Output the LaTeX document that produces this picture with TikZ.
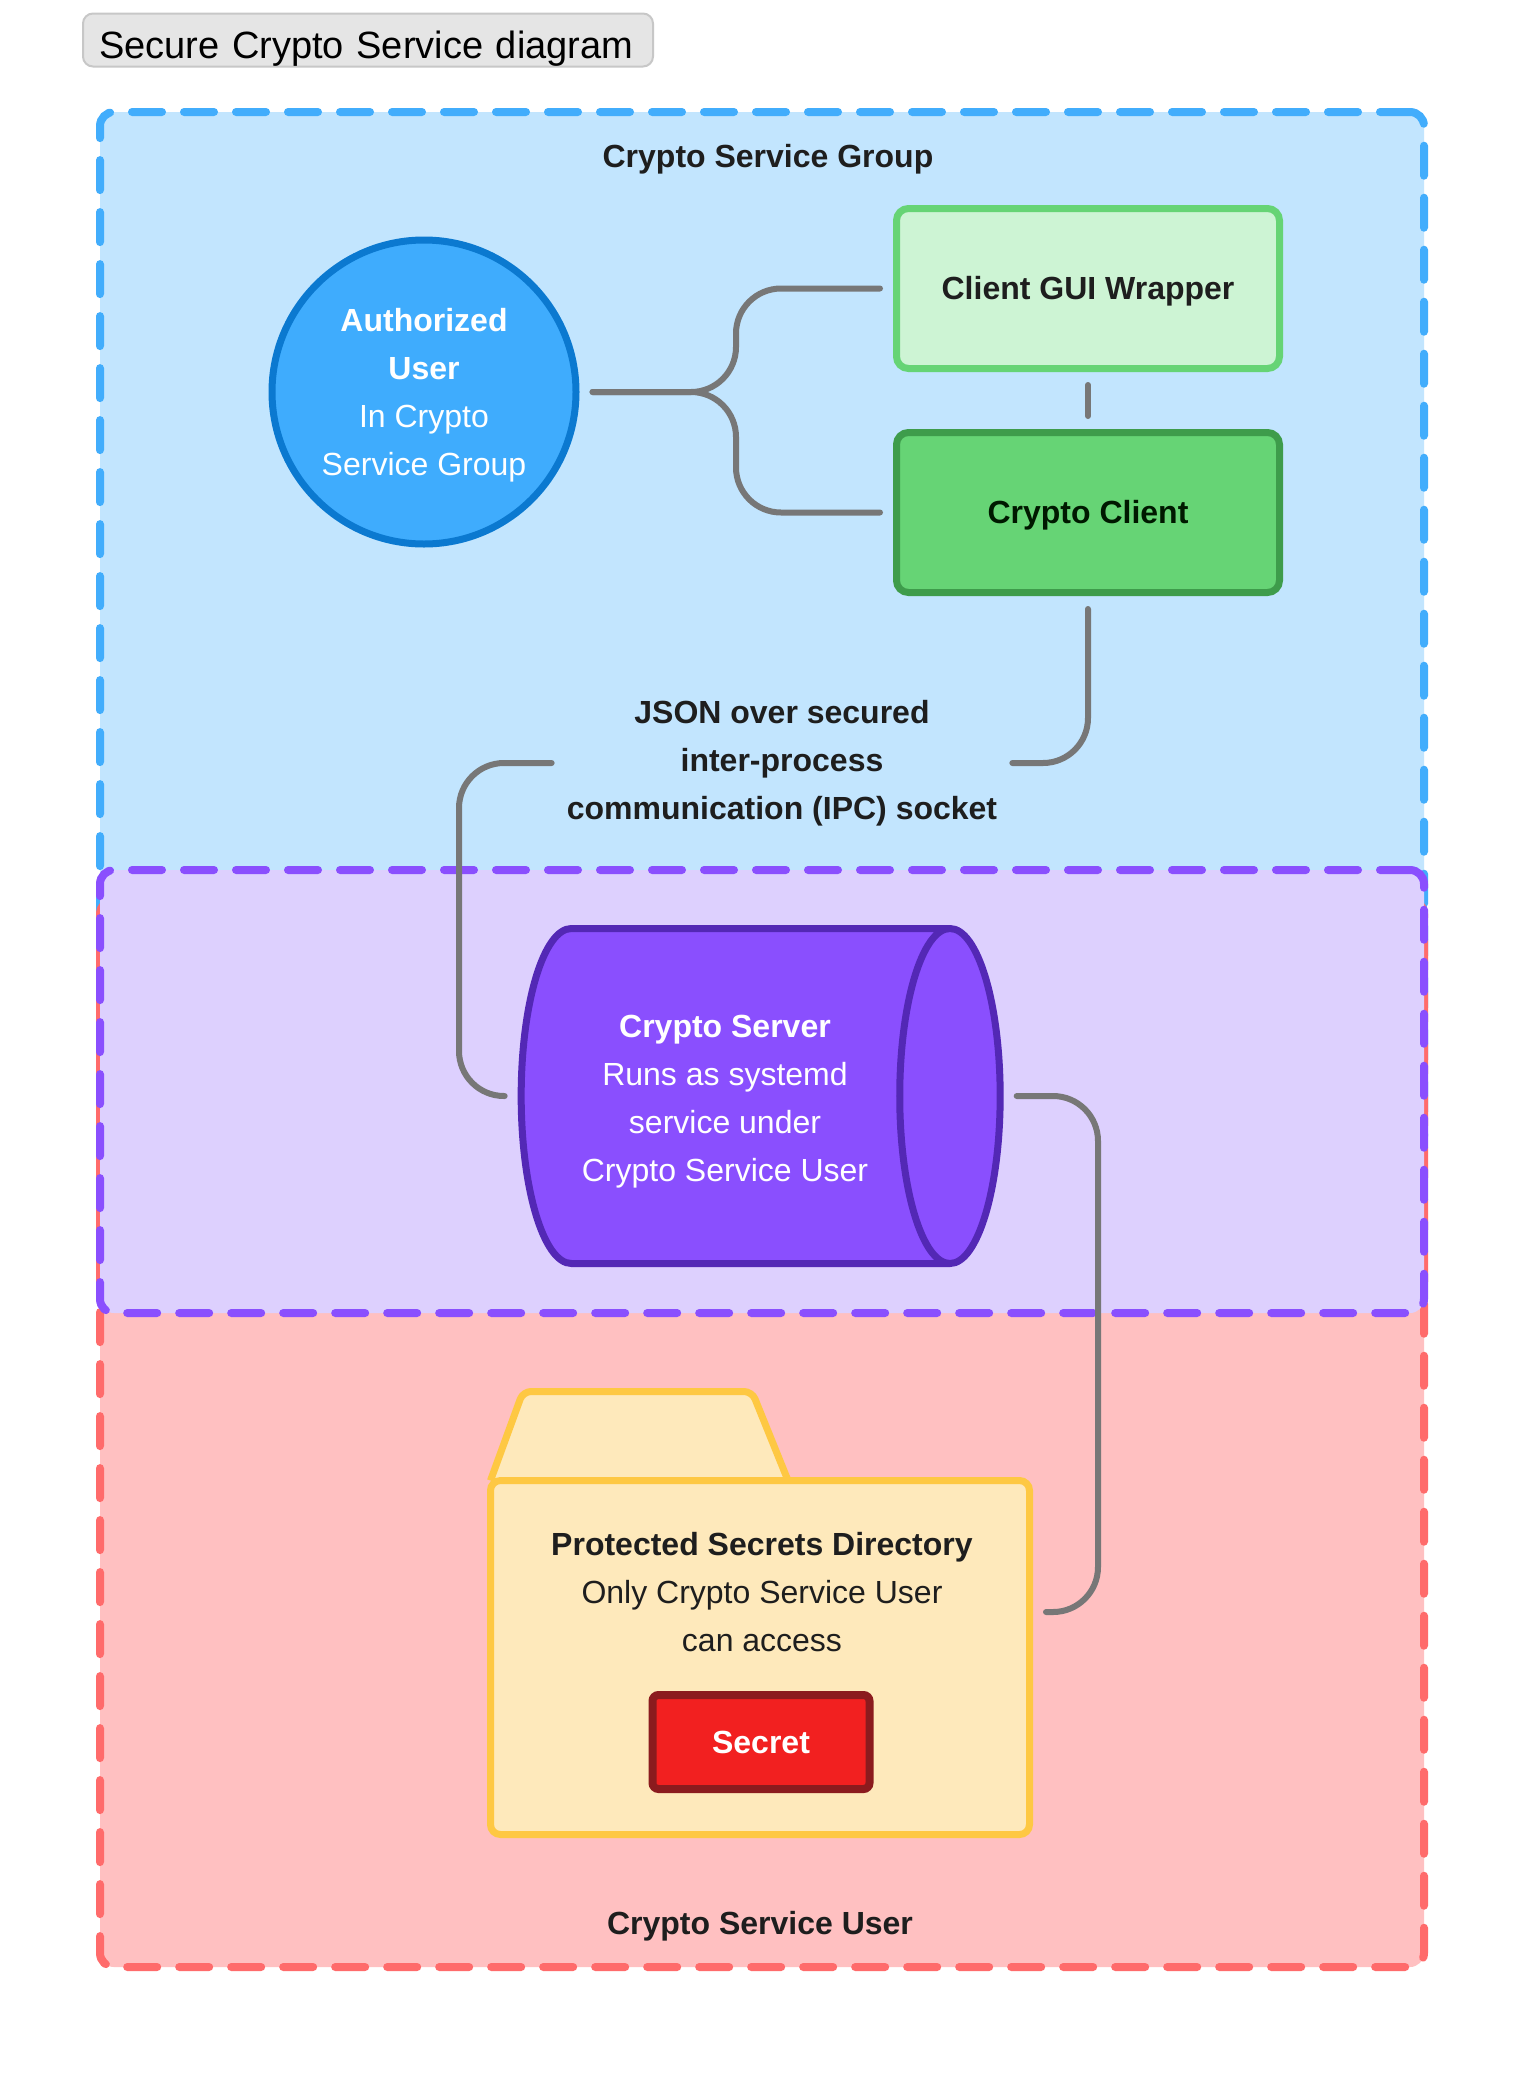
\documentclass[tikz,border=0pt]{standalone}
\usepackage{fontspec}
\setmainfont{Liberation Sans}
\usepackage{tikz}
\usetikzlibrary{shapes,arrows,positioning}
\AtBeginDocument{\fontsize{32}{48}\selectfont}
\definecolor{groupblue}{HTML}{C2E5FE}
\definecolor{groupblueline}{HTML}{42ADFC}
\definecolor{grouppurple}{HTML}{DDD0FE}
\definecolor{grouppurpleline}{HTML}{8A4FFE}
\definecolor{groupred}{HTML}{FFC0C1}
\definecolor{groupredline}{HTML}{FF6B6B}
\definecolor{userfill}{HTML}{3FACFD}
\definecolor{userline}{HTML}{0B79D0}
\definecolor{guifill}{HTML}{CDF4D4}
\definecolor{guiline}{HTML}{66D475}
\definecolor{clientfill}{HTML}{66D475}
\definecolor{clientline}{HTML}{3E9C4B}
\definecolor{serverfill}{HTML}{8A4FFE}
\definecolor{serverline}{HTML}{5328B5}
\definecolor{folderfill}{HTML}{FEE9BB}
\definecolor{folderline}{HTML}{FEC843}
\definecolor{secretfill}{HTML}{F22020}
\definecolor{secretline}{HTML}{8B1B1E}
\definecolor{wire}{HTML}{777777}
\definecolor{ink}{HTML}{1E1E1E}
\tikzstyle{group} = [rectangle, rounded corners=14pt, line width=8pt, dash pattern=on 30pt off 22pt,
line cap=round, minimum width=1324pt]
\tikzstyle{grouptitle} = [font=\bfseries, text=ink]
\tikzstyle{title} = [rectangle, draw=black!22, fill=black!10, line width=2pt, rounded corners=10pt,
text width=538pt, align=left, inner xsep=16pt, inner ysep=4pt, text height=41pt, text depth=4pt,
font=\fontsize{38}{46}\selectfont]
\tikzstyle{block} = [rectangle, draw, line width=7pt, rounded corners=12pt, minimum width=383pt,
minimum height=160pt, text height=28pt, text depth=7pt, font=\bfseries]
\tikzstyle{user} = [circle, draw=userline, fill=userfill, line width=7pt, minimum size=304pt,
inner sep=0pt, text=white, align=center]
\tikzstyle{server} = [cylinder, draw=serverline, fill=serverfill, line width=7pt, minimum width=335pt,
minimum height=479pt, aspect=0.49, text=white, align=center]
\tikzstyle{folder} = [rectangle, draw=folderline, fill=folderfill, line width=7pt, rounded corners=10pt,
minimum width=539pt, minimum height=354pt]
\tikzstyle{secret} = [rectangle, draw=secretline, fill=secretfill, line width=8pt, rounded corners=6pt,
minimum width=217pt, minimum height=94pt, text=white, font=\bfseries]
\tikzstyle{line} = [draw=wire, line width=6pt, line cap=round, rounded corners=45pt,
shorten <=13pt, shorten >=13pt]

\begin{document}
\begin{tikzpicture}[x=1pt, y=-1pt]
	\useasboundingbox (0,0) rectangle (1536,2080);
	\fill[white] (0,0) rectangle (1536,2080);
	% Groups
	\node [group, draw=groupblueline, fill=groupblue, minimum height=1038pt] (servicegroup) at (762,631) {};
	\node [group, draw=groupredline, fill=groupred, minimum height=1067pt] (serviceuser) at (762,1433.5) {};
	\node [group, draw=grouppurpleline, fill=grouppurple, minimum height=443pt] (serverzone) at (762,1091.5) {};
	\node [grouptitle] (grouptitle) at (768,159) {Crypto Service Group};
	\node [grouptitle] (usertitle) at (760,1926) {Crypto Service User};
	\node [title, anchor=west] (title) at (82,40) {Secure Crypto Service diagram};
	% Place nodes
	\node [user] (user) at (424,392) {\rule{0pt}{29pt}\textbf{Authorized}\\\textbf{User}\\In Crypto\\Service Group};
	\node [block, draw=guiline, fill=guifill, text=ink] (gui) at (1088,288.5) {Client GUI Wrapper};
	\node [block, draw=clientline, fill=clientfill, text=green!10!black, below of=gui, node distance=224pt] (client) {Crypto Client};
	\node [font=\bfseries, text=ink, align=center, inner xsep=2pt] (ipc) at (782,763) {JSON over secured\\inter-process\\communication (IPC) socket};
	\node [server] (server) at (725,1096) {\rule{0pt}{33pt}\textbf{Crypto Server}\\Runs as systemd\\service under\\Crypto Service User};
	\filldraw [draw=folderline, fill=folderfill, line width=7pt, rounded corners=8pt, line join=round]
	(490.5,1480.5) -- (523,1391.5) -- (752,1391.5) -- (788,1480.5);
	\node [folder] (folder) at (760,1657.5) {};
	\node [text=ink, align=center] (secrets) at (762,1592) {\textbf{Protected Secrets Directory}\\Only Crypto Service User\\can access};
	\node [secret] (secret) at (761,1742) {Secret};
	\coordinate (fork) at (736,392);
	\coordinate (loopl) at (459,1096);
	\coordinate (loopr) at (1098,1612);
	% Draw edges
	\path [line] (user) -- (fork) |- (gui);
	\path [line] (user) -- (fork) |- (client);
	\path [line] (gui) -- (client);
	\path [line] (client) |- (ipc);
	\path [line] (ipc) -| (loopl) -- (server);
	\path [line] (server) -| (loopr) -- ([yshift=45.5pt]folder.east);
\end{tikzpicture}
\end{document}
